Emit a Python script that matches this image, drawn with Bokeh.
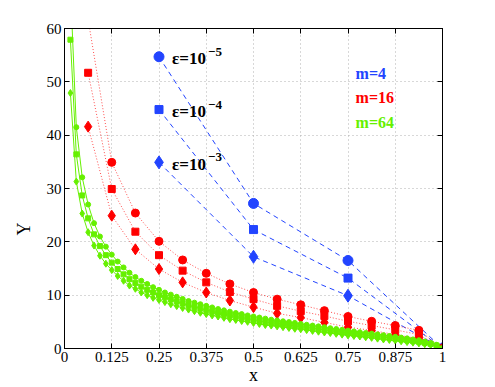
from bokeh.plotting import figure
from bokeh.models import Range1d, FixedTicker, LinearAxis, Title, CustomJSTickFormatter
from bokeh.core.properties import value
from bokeh.embed import file_html
from bokeh.resources import INLINE

# ---------------- data ----------------
x_ticks = [0, 0.125, 0.25, 0.375, 0.5, 0.625, 0.75, 0.875, 1]
x_tick_labels = ["0", "0.125", "0.25", "0.375", "0.5", "0.625", "0.75", "0.875", "1"]
y_ticks = [0, 10, 20, 30, 40, 50, 60]
y_tick_labels = ["0", "10", "20", "30", "40", "50", "60"]

# m = 4
x_m4 = [0.25, 0.5, 0.75, 1.0]
y_m4_e5 = [54.7, 27.2, 16.5, 0.0]
y_m4_e4 = [44.8, 22.3, 13.2, 0.0]
y_m4_e3 = [34.9, 17.2, 9.9, 0.0]

# m = 16
x_m16 = [0.0625, 0.125, 0.1875, 0.25, 0.3125, 0.375, 0.4375, 0.5, 0.5625, 0.625,
         0.6875, 0.75, 0.8125, 0.875, 0.9375, 1.0]
y_m16_e5 = [61.7, 34.9, 25.4, 20.1, 16.6, 14.1, 12.1, 10.5, 9.25, 8.2, 7.1, 6.0, 5.1, 4.3, 3.4, 0.0]
y_m16_e4 = [51.7, 29.9, 21.9, 17.5, 14.6, 12.4, 10.6, 9.25, 8.0, 7.0, 6.1, 5.1, 4.3, 3.5, 2.6, 0.0]
y_m16_e3 = [41.6, 24.9, 18.6, 14.9, 12.4, 10.5, 9.0, 7.75, 6.6, 5.8, 4.9, 4.0, 3.4, 2.6, 1.8, 0.0]

# m = 64
x_m64 = [0.015625, 0.03125, 0.046875, 0.0625, 0.078125, 0.09375, 0.109375, 0.125,
         0.140625, 0.15625, 0.171875, 0.1875, 0.203125, 0.21875, 0.234375, 0.25,
         0.265625, 0.28125, 0.296875, 0.3125, 0.328125, 0.34375, 0.359375, 0.375,
         0.390625, 0.40625, 0.421875, 0.4375, 0.453125, 0.46875, 0.484375, 0.5,
         0.515625, 0.53125, 0.546875, 0.5625, 0.578125, 0.59375, 0.609375, 0.625,
         0.640625, 0.65625, 0.671875, 0.6875, 0.703125, 0.71875, 0.734375, 0.75,
         0.765625, 0.78125, 0.796875, 0.8125, 0.828125, 0.84375, 0.859375, 0.875,
         0.890625, 0.90625, 0.921875, 0.9375, 0.953125, 0.96875, 0.984375, 1.0]
y_m64_e5 = [67.9, 41.5, 32.1, 27.0, 23.5, 21.0, 19.1, 17.6, 16.3, 15.2, 14.2, 13.4, 12.7, 12.1,
            11.5, 11.0, 10.5, 10.1, 9.7, 9.3, 8.9, 8.6, 8.3, 8.0, 7.7, 7.4, 7.15, 6.9, 6.65,
            6.45, 6.2, 6.0, 5.8, 5.6, 5.4, 5.25, 5.1, 4.95, 4.8, 4.6, 4.45, 4.3, 4.15, 4.0, 3.8,
            3.65, 3.5, 3.35, 3.2, 3.05, 2.9, 2.8, 2.65, 2.5, 2.35, 2.2, 2.05, 1.9, 1.7, 1.55,
            1.3, 1.05, 0.7, 0.0]
y_m64_e4 = [57.9, 36.4, 28.7, 24.4, 21.4, 19.2, 17.5, 16.1, 14.9, 13.9, 13.0, 12.3, 11.6, 11.0,
            10.5, 10.0, 9.6, 9.2, 8.8, 8.45, 8.1, 7.8, 7.5, 7.2, 6.95, 6.7, 6.45, 6.2, 6.0, 5.8,
            5.6, 5.4, 5.2, 5.0, 4.85, 4.7, 4.55, 4.4, 4.25, 4.1, 3.95, 3.8, 3.65, 3.5, 3.35,
            3.2, 3.05, 2.9, 2.8, 2.65, 2.5, 2.4, 2.25, 2.1, 2.0, 1.85, 1.7, 1.55, 1.4, 1.25,
            1.05, 0.85, 0.55, 0.0]
y_m64_e3 = [47.9, 31.3, 25.3, 21.8, 19.3, 17.4, 15.9, 14.7, 13.6, 12.7, 11.8, 11.2, 10.5, 10.0,
            9.5, 9.1, 8.7, 8.3, 7.95, 7.6, 7.3, 7.0, 6.7, 6.45, 6.2, 6.0, 5.75, 5.5, 5.35, 5.15,
            5.0, 4.8, 4.6, 4.4, 4.3, 4.15, 4.0, 3.85, 3.7, 3.6, 3.45, 3.3, 3.15, 3.0, 2.9, 2.75,
            2.6, 2.45, 2.35, 2.25, 2.1, 2.0, 1.85, 1.7, 1.6, 1.5, 1.35, 1.2, 1.1, 0.95, 0.8,
            0.65, 0.4, 0.0]

eps_labels = ["\u03b5=10", "\u03b5=10", "\u03b5=10"]
eps_exponents = ["\u22125", "\u22124", "\u22123"]
m_labels = ["m=4", "m=16", "m=64"]

# ---------------- style ----------------
BLUE = "#2244ff"
RED = "#ff0000"
GREEN = "#66f000"
FONT = "Liberation Serif"

p = figure(width=492, height=387, x_range=Range1d(0, 1), y_range=Range1d(0, 60),
           output_backend="svg", toolbar_location=None,
           min_border_left=64, min_border_top=28, min_border_right=50, min_border_bottom=39)
p.background_fill_color = "white"
p.border_fill_color = "white"
p.outline_line_color = "black"
p.outline_line_width = 1

xax = p.below[0]
yax = p.left[0]
xax.ticker = FixedTicker(ticks=x_ticks)
xax.major_label_overrides = {t: l for t, l in zip(x_ticks, x_tick_labels)}
yax.ticker = FixedTicker(ticks=y_ticks)
yax.major_label_overrides = {t: l for t, l in zip(y_ticks, y_tick_labels)}
p.xgrid.ticker = FixedTicker(ticks=x_ticks)
p.ygrid.ticker = FixedTicker(ticks=y_ticks)
for g in (p.xgrid, p.ygrid):
    g.grid_line_color = "#b0b0b0"
    g.grid_line_dash = "1 3"
    g.grid_line_width = 1

for ax in (xax, yax):
    ax.axis_line_color = "black"
    ax.major_tick_in = 5
    ax.major_tick_out = 0
    ax.minor_tick_line_color = None
    ax.major_tick_line_color = "black"
    ax.major_label_text_font = FONT
    ax.major_label_text_font_size = "15px"
    ax.major_label_text_color = "black"
    ax.axis_label_text_font = FONT
    ax.axis_label_text_font_size = "18px"
    ax.axis_label_text_font_style = "normal"
    ax.axis_label_text_color = "black"
xax.axis_label = "x"
xax.major_label_standoff = 3
xax.axis_label_standoff = 0
yax.major_label_standoff = 3

# mirrored tick marks on top and right (no labels)
empty_fmt = CustomJSTickFormatter(code="return ''")
p.add_layout(LinearAxis(ticker=FixedTicker(ticks=y_ticks), formatter=empty_fmt,
                        major_tick_in=5, major_tick_out=0, minor_tick_line_color=None,
                        major_label_standoff=0), "right")
p.add_layout(LinearAxis(ticker=FixedTicker(ticks=x_ticks), formatter=empty_fmt,
                        major_tick_in=5, major_tick_out=0, minor_tick_line_color=None,
                        major_label_standoff=0), "above")

# y axis title, placed lower than centre as in the original
p.add_layout(Title(text="Y", align="left", offset=113, text_font=FONT,
                   text_font_size="18px", text_font_style="normal",
                   text_color="black", standoff=20), "left")

# m = 4 (blue, dashed)
for ys, mk, sz in ((y_m4_e5, "circle", 10), (y_m4_e4, "square", 8), (y_m4_e3, "diamond", 13)):
    p.line(x_m4, ys, line_color=BLUE, line_dash="5 4", line_width=1)
    p.scatter(x_m4, ys, marker=mk, size=sz, fill_color=BLUE, line_color=BLUE)

# m = 16 (red, dotted)
for ys, mk, sz in ((y_m16_e5, "circle", 8), (y_m16_e4, "square", 7), (y_m16_e3, "diamond", 11)):
    p.line(x_m16, ys, line_color=RED, line_dash="1 2", line_width=1, line_alpha=0.7)
    p.scatter(x_m16, ys, marker=mk, size=sz, fill_color=RED, line_color=RED)

# m = 64 (green, solid)
for ys, mk, sz in ((y_m64_e5, "circle", 5), (y_m64_e4, "square", 5), (y_m64_e3, "diamond", 7)):
    p.line(x_m64, ys, line_color=GREEN, line_width=1)
    p.scatter(x_m64, ys, marker=mk, size=sz, fill_color=GREEN, line_color=GREEN)

# epsilon annotations next to first blue markers
eps_x = [x_m4[0]] * 3
eps_y = [y_m4_e5[0], y_m4_e4[0], y_m4_e3[0]]
p.text(x=eps_x, y=eps_y, text=eps_labels, x_offset=13, y_offset=2,
       text_font=value(FONT), text_font_style="bold", text_font_size="17px",
       text_color="black", text_baseline="middle", text_align="left")
p.text(x=eps_x, y=eps_y, text=eps_exponents, x_offset=49, y_offset=-5,
       text_font=value(FONT), text_font_style="bold", text_font_size="13px",
       text_color="black", text_baseline="middle", text_align="left")

# m legend texts
p.text(x=[0.77, 0.77, 0.77], y=[51.6, 47.0, 42.4], text=m_labels,
       text_color=[BLUE, RED, GREEN],
       text_font=value(FONT), text_font_style="bold", text_font_size="16px",
       text_baseline="middle", text_align="left")

open("out.html", "w").write(file_html(p, INLINE))
